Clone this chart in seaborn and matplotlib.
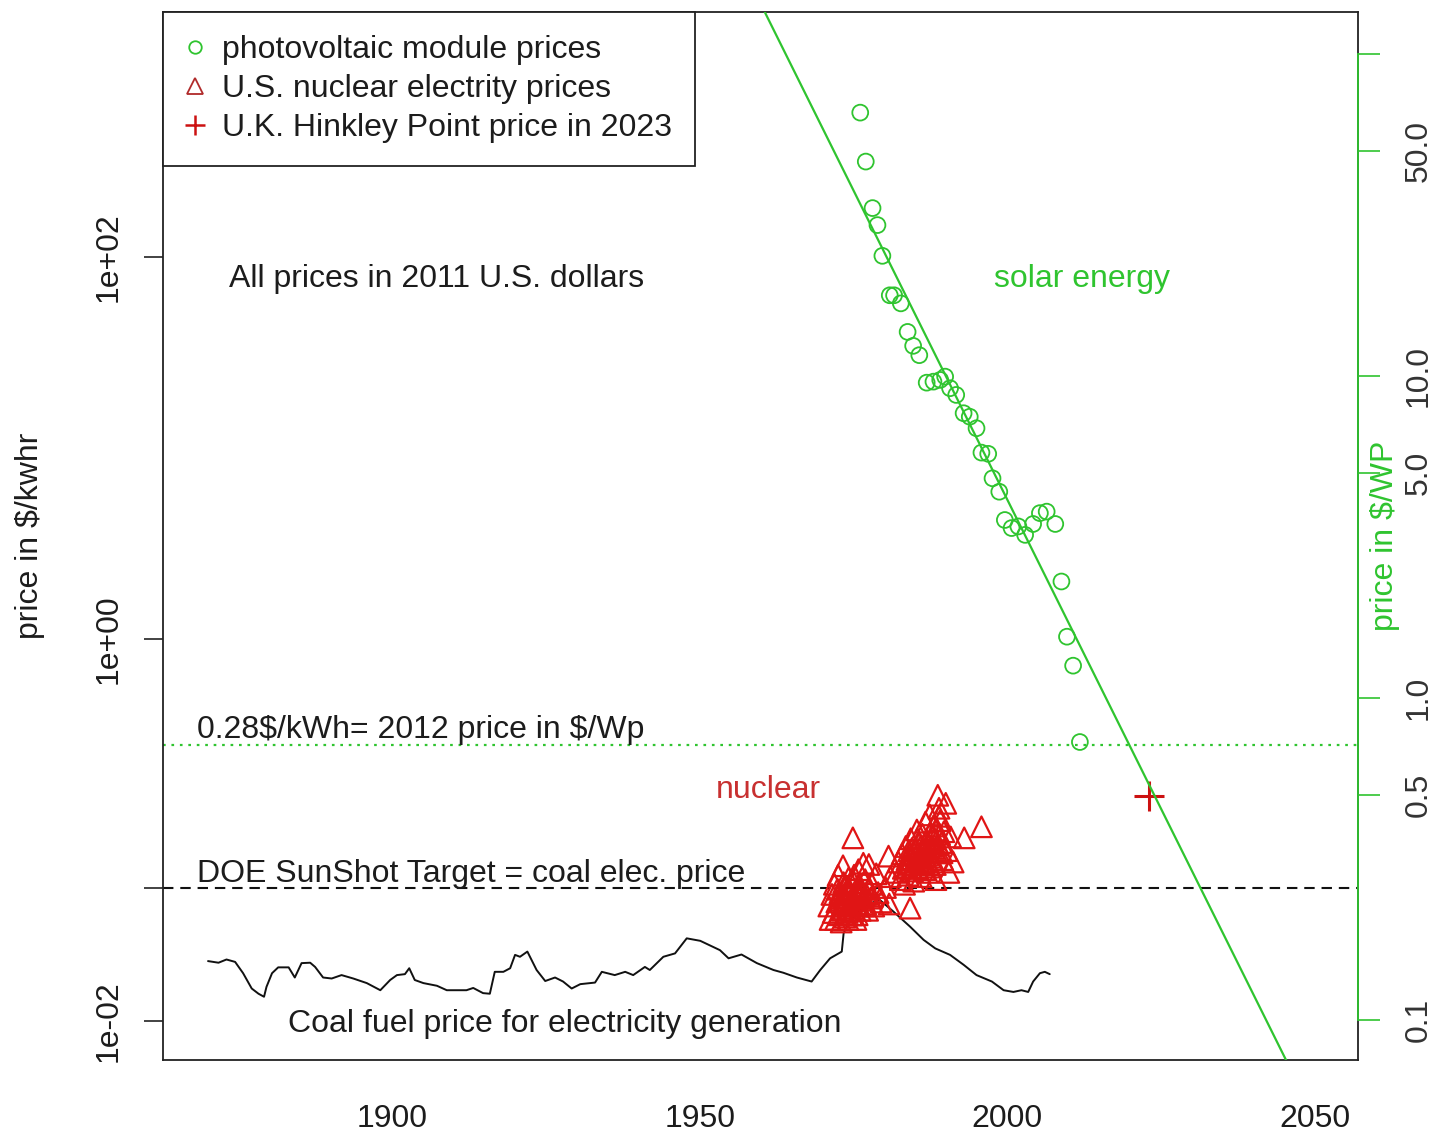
import numpy as np
import pandas as pd
import matplotlib
matplotlib.use("Agg")
import matplotlib.pyplot as plt
from matplotlib.lines import Line2D
import seaborn as sns

# ---- data ---------------------------------------------------------------
# photovoltaic module prices ($/Wp, right axis)
pv_years = [1976.1, 1977.0, 1978.1, 1978.9, 1979.7, 1980.9, 1981.6, 1982.7,
            1983.8, 1984.7, 1985.7, 1986.9, 1988.0, 1989.1, 1989.9, 1990.7,
            1991.7, 1992.9, 1993.9, 1995.0, 1995.8, 1996.9, 1997.6, 1998.7,
            1999.6, 2000.7, 2001.8, 2002.9, 2004.2, 2005.3, 2006.4, 2007.8,
            2008.8, 2009.7, 2010.7, 2011.8]
pv_prices = [65.7, 46.3, 33.2, 29.4, 23.6, 17.8, 17.8, 16.8,
             13.7, 12.4, 11.6, 9.53, 9.60, 9.72, 9.95, 9.16,
             8.73, 7.66, 7.47, 6.88, 5.78, 5.73, 4.81, 4.37,
             3.57, 3.37, 3.41, 3.21, 3.47, 3.75, 3.79, 3.47,
             2.30, 1.55, 1.26, 0.73]

# exponential trend of PV module prices (end points, $/Wp)
trend_years = [1955, 2050]
trend_prices = [221.0, 0.0496]

# U.S. nuclear electricity prices ($/kWh, left axis)
nuclear_years = [
    1971.0, 1971.2, 1971.5, 1971.7, 1971.9, 1972.1, 1972.3, 1972.5, 1972.6, 1972.8,
    1973.0, 1973.1, 1973.3, 1973.4, 1973.6, 1973.8, 1973.9, 1974.1, 1974.2, 1974.4,
    1974.5, 1974.7, 1974.9, 1974.8, 1975.0, 1975.1, 1975.3, 1975.4, 1975.6, 1975.8,
    1975.9, 1976.1, 1976.2, 1976.4, 1976.6, 1976.7, 1976.9, 1977.1, 1977.3, 1977.5,
    1977.8, 1978.0, 1978.3, 1978.7, 1979.0, 1979.5, 1980.7, 1980.2, 1980.8, 1981.0,
    1984.2,
    1972.9, 1973.2, 1973.5, 1973.7, 1974.0, 1974.3, 1974.6, 1974.9, 1975.2, 1975.5,
    1975.7, 1976.0, 1976.3, 1973.4, 1973.9, 1974.4, 1974.8, 1975.1, 1975.6, 1976.5,
    1972.4, 1972.7, 1977.0, 1977.4, 1978.1,
    1982.0, 1982.3, 1982.6, 1982.9, 1983.1, 1983.3, 1983.5, 1983.7, 1983.9, 1984.1,
    1984.3, 1984.4, 1984.6, 1984.8, 1985.0, 1985.1, 1985.3, 1985.5, 1985.7, 1985.8,
    1986.0, 1986.2, 1986.4, 1986.5, 1986.7, 1986.9, 1987.0, 1987.2, 1987.4, 1987.5,
    1987.7, 1987.9, 1988.0, 1988.2, 1988.4, 1988.6, 1988.7, 1988.9, 1989.1, 1989.3,
    1989.5, 1989.7, 1990.0, 1990.2, 1990.5, 1990.8, 1991.2, 1993.0, 1995.8,
    1983.8, 1984.2, 1984.5, 1984.9, 1985.2, 1985.6, 1985.9, 1986.3, 1986.6, 1986.8,
    1987.1, 1987.3, 1987.6, 1987.8, 1988.1, 1988.3, 1988.5, 1988.8, 1989.0, 1989.4,
    1984.0, 1985.4, 1986.1, 1987.5, 1988.9]
nuclear_prices = [
    0.040, 0.034, 0.046, 0.037, 0.052, 0.034, 0.042, 0.058, 0.036, 0.047,
    0.033, 0.040, 0.065, 0.044, 0.035, 0.051, 0.038, 0.034, 0.056, 0.042,
    0.047, 0.036, 0.091, 0.044, 0.039, 0.053, 0.041, 0.034, 0.048, 0.062,
    0.045, 0.038, 0.050, 0.043, 0.067, 0.040, 0.055, 0.046, 0.038, 0.066,
    0.044, 0.052, 0.040, 0.059, 0.047, 0.042, 0.073, 0.050, 0.041, 0.057,
    0.039,
    0.043, 0.038, 0.046, 0.041, 0.037, 0.049, 0.042, 0.045, 0.038, 0.044,
    0.051, 0.040, 0.047, 0.053, 0.048, 0.040, 0.036, 0.058, 0.036, 0.043,
    0.049, 0.044, 0.041, 0.049, 0.045,
    0.060, 0.068, 0.055, 0.075, 0.063, 0.052, 0.082, 0.070, 0.058, 0.066,
    0.090, 0.074, 0.061, 0.054, 0.079, 0.068, 0.100, 0.063, 0.085, 0.072,
    0.057, 0.095, 0.078, 0.066, 0.110, 0.088, 0.060, 0.074, 0.120, 0.097,
    0.082, 0.068, 0.105, 0.090, 0.055, 0.076, 0.152, 0.130, 0.112, 0.086,
    0.070, 0.098, 0.138, 0.078, 0.060, 0.092, 0.068, 0.091, 0.104,
    0.064, 0.071, 0.080, 0.066, 0.073, 0.068, 0.082, 0.071, 0.062, 0.077,
    0.085, 0.066, 0.072, 0.094, 0.080, 0.066, 0.100, 0.084, 0.095, 0.076,
    0.078, 0.090, 0.067, 0.064, 0.118]

# Hinkley Point strike price ($/kWh)
hinkley_year = [2023]
hinkley_price = [0.15]

# coal fuel price for electricity generation ($/kWh)
coal_years = [
    1870.1, 1871.8, 1873.1, 1874.5, 1875.8, 1877.2, 1878.3, 1879.2, 1879.6, 1880.5,
    1881.5, 1883.2, 1884.2, 1885.3, 1886.7, 1887.5, 1888.8, 1890.2, 1891.8, 1893.7,
    1895.9, 1898.1, 1899.7, 1900.8, 1902.1, 1902.8, 1903.7, 1905.1, 1907.3, 1908.9,
    1912.1, 1913.2, 1914.8, 1915.9, 1916.7, 1918.1, 1919.2, 1920.0, 1920.8, 1922.0,
    1923.5, 1924.9, 1926.5, 1927.8, 1929.2, 1930.6, 1933.0, 1934.1, 1936.2, 1937.9,
    1939.2, 1941.1, 1941.9, 1944.1, 1946.0, 1947.9, 1950.1, 1953.3, 1954.7, 1956.8,
    1959.3, 1962.0, 1963.6, 1965.8, 1968.2, 1969.6, 1971.2, 1973.1, 1973.4, 1974.4,
    1976.9, 1979.3, 1981.5, 1984.2, 1986.4, 1988.3, 1990.7, 1992.9, 1995.0, 1997.5,
    1999.4, 2001.0, 2002.3, 2003.4, 2004.2, 2005.3, 2006.1, 2006.9]
coal_prices = [
    0.0206, 0.0202, 0.0210, 0.0204, 0.0178, 0.0148, 0.0139, 0.0134, 0.0151, 0.0178,
    0.0191, 0.0191, 0.0169, 0.0201, 0.0202, 0.0192, 0.0169, 0.0167, 0.0174, 0.0167,
    0.0158, 0.0145, 0.0164, 0.0174, 0.0176, 0.0189, 0.0164, 0.0158, 0.0153, 0.0145,
    0.0145, 0.0149, 0.0140, 0.0139, 0.0181, 0.0181, 0.0189, 0.0222, 0.0217, 0.0231,
    0.0185, 0.0162, 0.0169, 0.0161, 0.0148, 0.0156, 0.0159, 0.0181, 0.0174, 0.0181,
    0.0174, 0.0192, 0.0185, 0.0217, 0.0226, 0.0271, 0.0263, 0.0235, 0.0213, 0.0223,
    0.0201, 0.0185, 0.0179, 0.0169, 0.0161, 0.0185, 0.0213, 0.0231, 0.0288, 0.0338,
    0.0405, 0.0430, 0.0374, 0.0312, 0.0266, 0.0240, 0.0222, 0.0197, 0.0174, 0.0161,
    0.0145, 0.0142, 0.0145, 0.0142, 0.0161, 0.0178, 0.0181, 0.0176]

# reference levels ($/kWh)
pv_2012_level = 0.28
sunshot_level = 0.05

x_ticks = [1900, 1950, 2000, 2050]
left_ticks = [1e-2, sunshot_level, 1e0, 1e2]
left_ticklabels = ["1e-02", "", "1e+00", "1e+02"]
right_ticks = [0.1, 0.5, 1.0, 5.0, 10.0, 50.0, 100.0]
right_ticklabels = ["0.1", "0.5", "1.0", "5.0", "10.0", "50.0", ""]

# ---- style --------------------------------------------------------------
sns.set_style("white")
plt.rcParams["font.family"] = ["Liberation Sans", "DejaVu Sans"]
plt.rcParams["axes.linewidth"] = 1.3

GREEN = "#2fc42f"
RED = "#e01515"
DARKRED = "#b02a2a"
TXT = "#1c1c1c"
FS = 23

fig = plt.figure(figsize=(14.35, 11.35), dpi=100)
ax = fig.add_axes([163 / 1435, 1 - 1060 / 1135, 1195 / 1435, 1048 / 1135])
ax.set_xlim(1862.78, 2057.0)
ax.set_yscale("log")
ax.set_ylim(10 ** -2.204, 10 ** 3.283)

coal = pd.DataFrame({"year": coal_years, "price": coal_prices})
nuc = pd.DataFrame({"year": nuclear_years, "price": nuclear_prices})

sns.lineplot(data=coal, x="year", y="price", ax=ax, color="#111111", lw=1.4,
             sort=False, estimator=None)
ax.axhline(pv_2012_level, color=GREEN, lw=1.6, ls=(0, (1.2, 2.6)))
ax.axhline(sunshot_level, color="#111111", lw=1.5, ls=(0, (5, 3.3)))
sns.scatterplot(data=nuc, x="year", y="price", ax=ax, marker="^", s=220,
                facecolors="none", edgecolor=RED, linewidth=1.6, zorder=3)
ax.plot(hinkley_year, hinkley_price, marker="+", ms=22, mew=2.2, color="#cc1111",
        ls="none", zorder=4)

ax.text(1907.2, 77, "All prices in 2011 U.S. dollars", fontsize=FS, color=TXT,
        ha="center", va="center")
ax.text(2012.1, 77, "solar energy", fontsize=FS, color=GREEN, ha="center", va="center")
ax.text(1904.7, 0.334, "0.28\\$/kWh= 2012 price in \\$/Wp", fontsize=FS, color=TXT,
        ha="center", va="center")
ax.text(1961.1, 0.163, "nuclear", fontsize=FS, color="#c83030", ha="center", va="center")
ax.text(1912.8, 0.0588, "DOE SunShot Target = coal elec. price", fontsize=FS,
        color=TXT, ha="center", va="center")
ax.text(1928.1, 0.0097, "Coal fuel price for electricity generation", fontsize=FS,
        color=TXT, ha="center", va="center")

ax.set_xticks(x_ticks)
ax.set_xticklabels([str(t) for t in x_ticks])
ax.set_yticks(left_ticks)
ax.set_yticklabels(left_ticklabels, rotation=90, va="center")
ax.yaxis.set_minor_locator(matplotlib.ticker.NullLocator())
ax.tick_params(axis="both", which="major", direction="out", length=14, width=1.2,
               color="#222222", labelsize=FS, labelcolor=TXT)
ax.tick_params(axis="x", pad=18)
ax.tick_params(axis="y", pad=14)
ax.set_xlabel("")
ax.set_ylabel("price in \\$/kwhr", fontsize=FS, color=TXT)
ax.yaxis.set_label_coords(-0.1113, 0.5)
ax.yaxis.label.set_verticalalignment("center")
for s in ax.spines.values():
    s.set_color("#222222")

# right axis: PV module prices in $/Wp
ax2 = ax.twinx()
ax2.set_yscale("log")
ax2.set_ylim(10 ** -1.124, 10 ** 2.130)
pv = pd.DataFrame({"year": pv_years, "price": pv_prices})
trend = pd.DataFrame({"year": trend_years, "price": trend_prices})
sns.lineplot(data=trend, x="year", y="price", ax=ax2, color=GREEN, lw=1.6,
             sort=False, estimator=None)
sns.scatterplot(data=pv, x="year", y="price", ax=ax2, marker="o", s=130,
                facecolors="none", edgecolor=GREEN, linewidth=1.3, zorder=3)
ax2.set_yticks(right_ticks)
ax2.set_yticklabels(right_ticklabels, rotation=90, va="center")
ax2.yaxis.set_minor_locator(matplotlib.ticker.NullLocator())
ax2.tick_params(axis="y", which="major", direction="out", length=16, width=1.2,
                color=GREEN, labelsize=FS, labelcolor="#333333", pad=17)
ax2.spines["right"].set_bounds(0.1, 100)
ax2.spines["right"].set_color(GREEN)
ax2.spines["right"].set_linewidth(1.3)
for side in ("left", "top", "bottom"):
    ax2.spines[side].set_visible(False)
ax2.set_xlabel("")
ax2.set_ylabel("price in \\$/WP", fontsize=FS, color=GREEN)
ax2.yaxis.set_label_coords(1.0226, 0.5)
ax2.yaxis.label.set_verticalalignment("center")
ax2.set_xlim(1862.78, 2057.0)

# legend
handles = [
    Line2D([], [], ls="none", marker="o", ms=9, mfc="none", mec=GREEN, mew=1.3),
    Line2D([], [], ls="none", marker="^", ms=12, mfc="none", mec=DARKRED, mew=1.3),
    Line2D([], [], ls="none", marker="+", ms=15, mec="#cc1111", mew=1.8),
]
labels = ["photovoltaic module prices", "U.S. nuclear electrity prices",
          "U.K. Hinkley Point price in 2023"]
leg = ax2.legend(handles, labels, loc="upper left", bbox_to_anchor=(0, 1),
                 borderaxespad=0, frameon=True, fancybox=False, framealpha=1,
                 edgecolor="#222222", fontsize=FS, handlelength=0.56,
                 handletextpad=0.56, labelspacing=0.28, borderpad=0.72)
leg.get_frame().set_linewidth(1.3)
for t in leg.get_texts():
    t.set_color(TXT)

fig.savefig("out.png", dpi=100, facecolor="white")
